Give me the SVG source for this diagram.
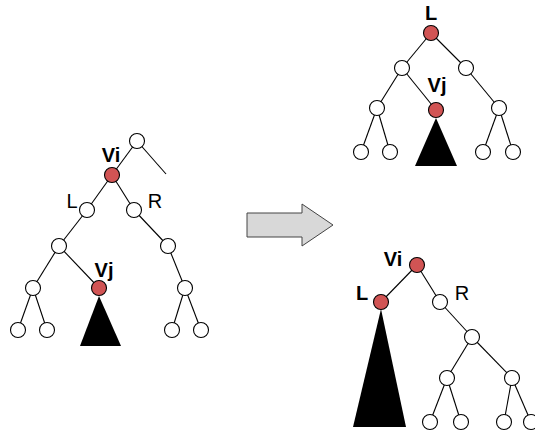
<svg xmlns="http://www.w3.org/2000/svg" width="535" height="436" viewBox="0 0 535 436">
  <style>
    .edge { stroke: #000; stroke-width: 1.1; fill: none; }
    .node { fill: #fff; stroke: #000; stroke-width: 1.1; }
    .hot { fill: #d15454; stroke: #000; stroke-width: 1.1; }
    .sub { fill: #000; }
    .lbl { font-family: "Liberation Sans", Arial, sans-serif; font-size: 20px; text-anchor: middle; fill: #000; }
    .b { font-weight: bold; }
  </style>
  <rect width="535" height="436" fill="#fff"/>

  <!-- connectors -->
  <g id="connectors">
    <!-- left tree -->
    <line class="edge" x1="137" y1="141" x2="112" y2="175"/>
    <line class="edge" x1="137" y1="141" x2="166" y2="174"/>
    <line class="edge" x1="112" y1="175" x2="87" y2="210"/>
    <line class="edge" x1="112" y1="175" x2="134" y2="210"/>
    <line class="edge" x1="87" y1="210" x2="59" y2="246"/>
    <line class="edge" x1="59" y1="246" x2="33" y2="288"/>
    <line class="edge" x1="59" y1="246" x2="99" y2="288"/>
    <line class="edge" x1="33" y1="288" x2="18" y2="330"/>
    <line class="edge" x1="33" y1="288" x2="47" y2="330"/>
    <line class="edge" x1="134" y1="210" x2="168" y2="246"/>
    <line class="edge" x1="168" y1="246" x2="185" y2="288"/>
    <line class="edge" x1="185" y1="288" x2="172" y2="330"/>
    <line class="edge" x1="185" y1="288" x2="201" y2="330"/>
    <!-- top right tree -->
    <line class="edge" x1="431" y1="33" x2="402" y2="68"/>
    <line class="edge" x1="431" y1="33" x2="466" y2="68"/>
    <line class="edge" x1="402" y1="68" x2="377" y2="108"/>
    <line class="edge" x1="402" y1="68" x2="436" y2="110"/>
    <line class="edge" x1="377" y1="108" x2="361" y2="152"/>
    <line class="edge" x1="377" y1="108" x2="390" y2="152"/>
    <line class="edge" x1="466" y1="68" x2="499" y2="108"/>
    <line class="edge" x1="499" y1="108" x2="483" y2="152"/>
    <line class="edge" x1="499" y1="108" x2="513" y2="152"/>
    <!-- bottom right tree -->
    <line class="edge" x1="417" y1="265" x2="381" y2="302"/>
    <line class="edge" x1="417" y1="265" x2="440" y2="302"/>
    <line class="edge" x1="440" y1="302" x2="472" y2="337"/>
    <line class="edge" x1="472" y1="337" x2="447" y2="378"/>
    <line class="edge" x1="472" y1="337" x2="512" y2="378"/>
    <line class="edge" x1="447" y1="378" x2="430" y2="422"/>
    <line class="edge" x1="447" y1="378" x2="461" y2="422"/>
    <line class="edge" x1="512" y1="378" x2="504" y2="422"/>
    <line class="edge" x1="512" y1="378" x2="531" y2="422"/>
  </g>

  <!-- left tree -->
  <g id="left-tree">
    <circle class="node" cx="137" cy="141" r="7.5"/>
    <circle class="hot" cx="112" cy="175" r="7.5"/>
    <circle class="node" cx="87" cy="210" r="7.5"/>
    <circle class="node" cx="134" cy="210" r="7.5"/>
    <circle class="node" cx="59" cy="246" r="7.5"/>
    <circle class="node" cx="168" cy="246" r="7.5"/>
    <circle class="node" cx="33" cy="288" r="7.5"/>
    <circle class="hot" cx="99" cy="288" r="7.5"/>
    <circle class="node" cx="185" cy="288" r="7.5"/>
    <circle class="node" cx="18" cy="330" r="7.5"/>
    <circle class="node" cx="47" cy="330" r="7.5"/>
    <circle class="node" cx="172" cy="330" r="7.5"/>
    <circle class="node" cx="201" cy="330" r="7.5"/>
    <polygon class="sub" points="99,296 80,346 121,346"/>
    <text class="lbl b" x="111" y="162">Vi</text>
    <text class="lbl" x="72" y="208">L</text>
    <text class="lbl" x="155" y="208">R</text>
    <text class="lbl b" x="104" y="277">Vj</text>
  </g>

  <!-- top right tree -->
  <g id="top-right-tree">
    <circle class="hot" cx="431" cy="33" r="7.5"/>
    <circle class="node" cx="402" cy="68" r="7.5"/>
    <circle class="node" cx="466" cy="68" r="7.5"/>
    <circle class="node" cx="377" cy="108" r="7.5"/>
    <circle class="hot" cx="436" cy="110" r="7.5"/>
    <circle class="node" cx="499" cy="108" r="7.5"/>
    <circle class="node" cx="361" cy="152" r="7.5"/>
    <circle class="node" cx="390" cy="152" r="7.5"/>
    <circle class="node" cx="483" cy="152" r="7.5"/>
    <circle class="node" cx="513" cy="152" r="7.5"/>
    <polygon class="sub" points="436,118 415,166 457,166"/>
    <text class="lbl b" x="431" y="20">L</text>
    <text class="lbl b" x="437" y="92">Vj</text>
  </g>

  <!-- bottom right tree -->
  <g id="bottom-right-tree">
    <circle class="hot" cx="417" cy="265" r="7.5"/>
    <circle class="hot" cx="381" cy="302" r="7.5"/>
    <circle class="node" cx="440" cy="302" r="7.5"/>
    <circle class="node" cx="472" cy="337" r="7.5"/>
    <circle class="node" cx="447" cy="378" r="7.5"/>
    <circle class="node" cx="512" cy="378" r="7.5"/>
    <circle class="node" cx="430" cy="422" r="7.5"/>
    <circle class="node" cx="461" cy="422" r="7.5"/>
    <circle class="node" cx="504" cy="422" r="7.5"/>
    <circle class="node" cx="531" cy="422" r="7.5"/>
    <polygon class="sub" points="381,309 353,427 406,427"/>
    <text class="lbl b" x="393" y="266">Vi</text>
    <text class="lbl b" x="362" y="300">L</text>
    <text class="lbl" x="462" y="300">R</text>
  </g>

  <!-- transformation arrow -->
  <g id="arrow">
    <polygon points="247,213 302,213 302,204 333,225 302,246 302,237 247,237" fill="#d8d8d8" stroke="#444" stroke-width="1"/>
  </g>
</svg>
